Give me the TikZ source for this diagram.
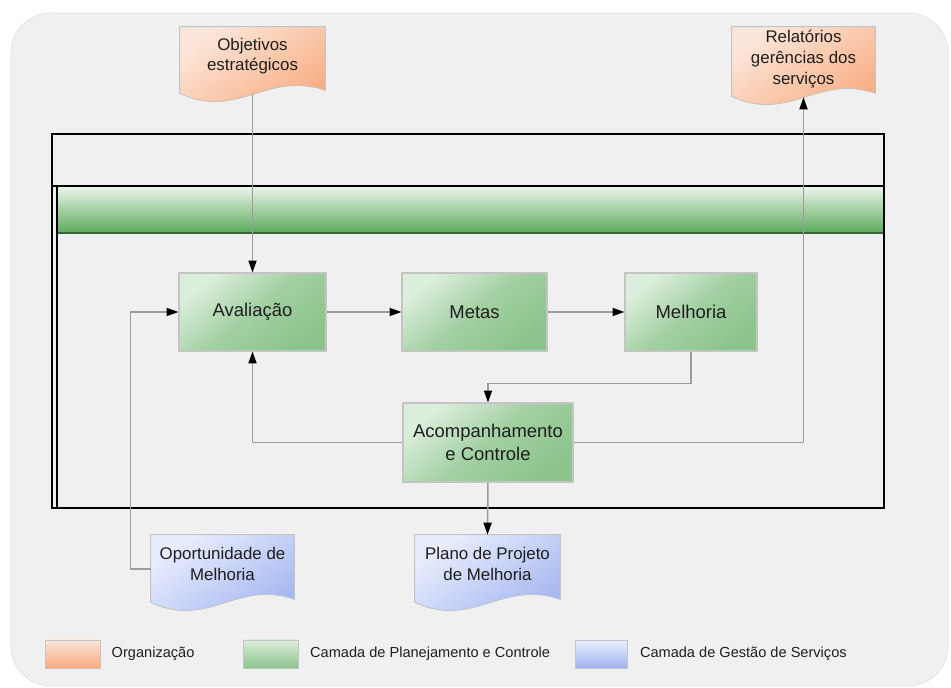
\documentclass[tikz,border=0pt]{standalone}
\usepackage{fontspec}
\setmainfont{Liberation Sans}
\usetikzlibrary{positioning,calc,arrows.meta}

\definecolor{panel}{HTML}{F0F0F0}
\definecolor{paneledge}{HTML}{E2E2E2}
\definecolor{linegray}{HTML}{9C9C9C}
\definecolor{boxline}{HTML}{C4C4C4}
\definecolor{txt}{HTML}{1E1E1E}
\definecolor{greenlight}{HTML}{DCEEDC}
\definecolor{greenmid}{HTML}{A2D0A2}
\definecolor{greendark}{HTML}{8CC48C}
\definecolor{barlight}{HTML}{E6F3E6}
\definecolor{bardark}{HTML}{5AAA5A}
\definecolor{barline}{HTML}{3E5E3E}
\definecolor{orglight}{HTML}{FCE6D9}
\definecolor{orgdark}{HTML}{F8AA7E}
\definecolor{servlight}{HTML}{E8EDFD}
\definecolor{servdark}{HTML}{A2B4F0}

\pgfdeclarelayer{back}
\pgfdeclarelayer{docs}
\pgfsetlayers{back,docs,main}

% document shape with wavy bottom drawn behind a node
\newcommand\docwave[3]{%
  \begin{pgfonlayer}{docs}
    \path[draw=boxline, line width=0.5pt, top color=#2, bottom color=#3, shading angle=35]
      (#1.north west) -- (#1.north east) -- ($(#1.south east)+(0,-4)$)
      .. controls ($(#1.south east)!0.4!(#1.south west)+(0,-24)$)
         and ($(#1.south east)!0.6!(#1.south west)+(0,26)$) .. ($(#1.south west)+(0,-1)$)
      -- cycle;
  \end{pgfonlayer}}

\tikzset{
  box/.style={draw=boxline, line width=0.6pt, top color=greenlight, bottom color=greendark,
    middle color=greenmid, shading angle=40, minimum height=1.56cm, text=txt,
    align=center, font=\fontsize{10.5}{13}\selectfont},
  doc/.style={inner sep=0pt, text=txt, align=center, minimum height=1.36cm,
    font=\fontsize{9.6}{11.8}\selectfont},
  flow/.style={draw=linegray, line width=0.85pt,
    -{Triangle[length=6.8pt,width=4.6pt,color=black]}},
  pool/.style={draw=black, line width=1.3pt},
  swatch/.style={draw=boxline, line width=0.4pt, minimum width=1.1cm, minimum height=0.56cm,
    shading angle=35},
  legtext/.style={inner xsep=0pt, text=txt, font=\fontsize{8.3}{10}\selectfont}
}

\begin{document}
\begin{tikzpicture}[x=0.02cm,y=-0.02cm]
\useasboundingbox (0,0) rectangle (951,688);

\begin{pgfonlayer}{back}
  \fill[white] (0,0) rectangle (951,688);
  \draw[paneledge, fill=panel, rounded corners=0.8cm] (11,13) rectangle (948,686);
  % pool with the green lane header
  \fill[top color=barlight, bottom color=bardark] (58,188) rectangle (884,233);
  \draw[barline, line width=1pt] (58,233) -- (884,233);
  \draw[pool] (52,134) rectangle (884,508);
  \draw[pool] (52,186) -- (884,186);
  \draw[pool] (57,186) -- (57,508);
\end{pgfonlayer}

% process steps
\node[box, minimum width=2.94cm] (aval) at (252.5,312) {Avaliação};
\node[box, minimum width=2.9cm] (metas) at (474.5,312) {Metas};
\node[box, minimum width=2.64cm] (melh) at (691,312) {Melhoria};
\node[box, minimum width=3.4cm, minimum height=1.58cm] (acomp) at (488,442.5) {Acompanhamento\\e Controle};

% documents
\node[doc, minimum width=2.9cm, minimum height=1.34cm] (obj) at (252.5,60.5) {Objetivos\\estratégicos\\[-5pt]};
\docwave{obj}{orglight}{orgdark}
\node[doc, minimum width=2.86cm, minimum height=1.4cm] (rel) at (803.5,62) {Relatórios\\gerências dos\\serviços\\[-6.7pt]};
\docwave{rel}{orglight}{orgdark}
\node[doc, minimum width=2.86cm] (oport) at (222.5,569) {Oportunidade de\\Melhoria\\[-6pt]};
\docwave{oport}{servlight}{servdark}
\node[doc, minimum width=2.9cm] (plano) at (487.5,569) {Plano de Projeto\\de Melhoria\\[-6pt]};
\docwave{plano}{servlight}{servdark}

% flows
\draw[flow] (obj.south) -- (aval.north);
\draw[flow] (aval) -- (metas);
\draw[flow] (metas) -- (melh);
\draw[flow] (melh.south) -- ++(0,32) -| (acomp.north);
\draw[flow] (acomp.west) -| (aval.south);
\draw[flow] (acomp.east) -| (rel.south);
\draw[flow] (acomp.south) -- (plano.north);
\draw[flow] (oport.west) -- ++(-20,0) |- (aval.west);

% legend
\node[swatch, top color=orglight, bottom color=orgdark] (legorg) at (73,654) {};
\node[legtext, right=6pt of legorg] (legorgtxt) {Organização};
\node[swatch, top color=greenlight, bottom color=greendark] (legplan) at (270.5,654) {};
\node[legtext, right=6.5pt of legplan] (legplantxt) {Camada de Planejamento e Controle};
\node[swatch, minimum width=1.04cm, top color=servlight, bottom color=servdark] (legserv) at (601,654) {};
\node[legtext, right=7pt of legserv] (legservtxt) {Camada de Gestão de Serviços};
\end{tikzpicture}
\end{document}
